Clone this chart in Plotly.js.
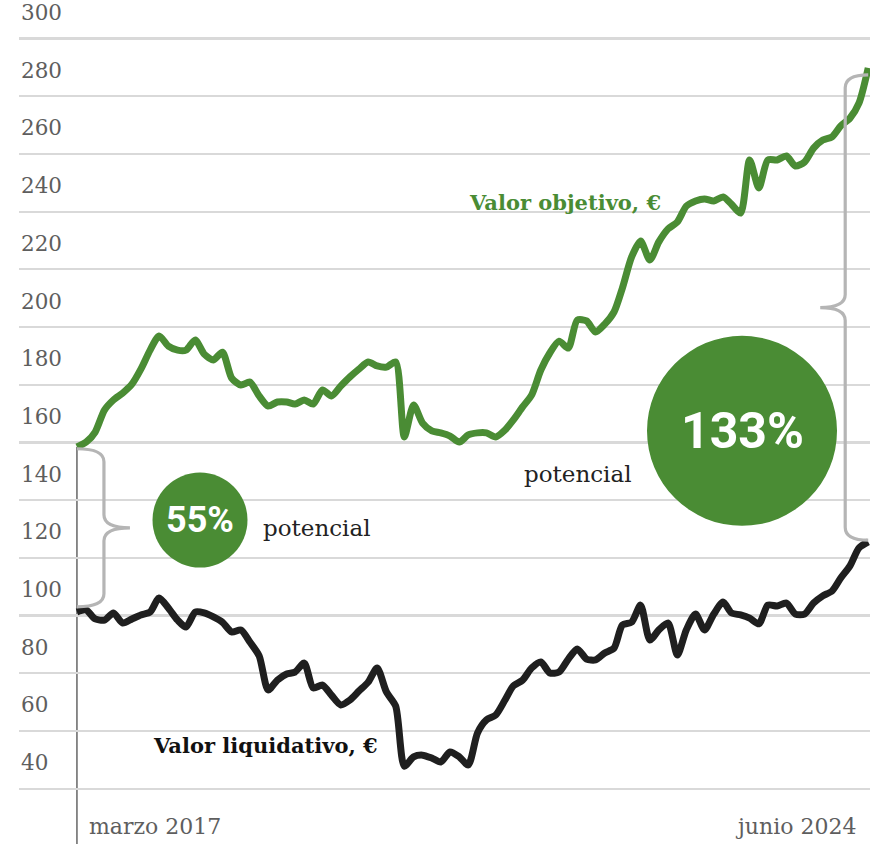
<!DOCTYPE html>
<html>
<head>
<meta charset="utf-8">
<script src="https://cdn.plot.ly/plotly-3.0.1.min.js"></script>
<style>html,body{margin:0;padding:0;background:#fff}#chart{width:870px;height:844px}</style>
</head>
<body>
<div id="chart"></div>
<script>
// Monthly observations, marzo 2017 – junio 2024
const months = [
"2017-03","2017-04","2017-05","2017-06","2017-07","2017-08","2017-09","2017-10","2017-11","2017-12",
"2018-01","2018-02","2018-03","2018-04","2018-05","2018-06","2018-07","2018-08","2018-09","2018-10","2018-11","2018-12",
"2019-01","2019-02","2019-03","2019-04","2019-05","2019-06","2019-07","2019-08","2019-09","2019-10","2019-11","2019-12",
"2020-01","2020-02","2020-03","2020-04","2020-05","2020-06","2020-07","2020-08","2020-09","2020-10","2020-11","2020-12",
"2021-01","2021-02","2021-03","2021-04","2021-05","2021-06","2021-07","2021-08","2021-09","2021-10","2021-11","2021-12",
"2022-01","2022-02","2022-03","2022-04","2022-05","2022-06","2022-07","2022-08","2022-09","2022-10","2022-11","2022-12",
"2023-01","2023-02","2023-03","2023-04","2023-05","2023-06","2023-07","2023-08","2023-09","2023-10","2023-11","2023-12",
"2024-01","2024-02","2024-03","2024-04","2024-05","2024-06"];

const valorObjetivo = [
158.4,160.1,163.6,171.2,174.7,177.1,180.2,185.4,192.0,196.9,
193.4,192.0,192.0,195.5,190.6,188.6,191.3,182.3,179.9,180.9,176.1,172.6,
174.0,174.0,173.3,174.7,173.3,178.2,176.1,179.5,182.7,185.4,187.9,186.5,
186.1,187.9,161.9,173.0,166.7,164.0,163.3,162.2,160.1,162.6,163.3,163.3,
161.9,164.3,167.8,172.3,176.4,185.1,191.0,195.1,192.7,202.4,202.1,198.3,
201.0,205.2,213.5,224.3,229.8,223.2,229.5,234.0,236.4,241.9,243.7,244.4,
243.7,245.1,242.6,239.5,257.9,248.2,257.9,257.9,259.3,255.8,257.2,262.0,
264.8,265.9,269.7,272.4,277.6,289.8];

const valorLiquidativo = [
101.2,101.9,98.8,98.4,100.9,97.4,98.8,100.2,101.2,106.1,
102.6,98.4,96.0,101.2,100.9,99.5,97.7,94.3,95.0,90.8,86.0,74.2,
77.6,79.7,80.4,83.5,74.9,75.9,72.4,69.0,70.7,73.8,76.9,81.8,
73.5,68.6,47.8,51.0,51.6,50.6,49.2,52.7,51.0,48.2,59.3,63.8,
65.5,70.7,75.6,77.6,81.8,83.9,80.1,80.4,84.9,88.4,84.9,84.6,
87.0,88.7,96.7,97.7,103.6,91.5,95.0,97.4,86.3,95.0,100.5,95.0,
100.5,104.7,100.9,100.2,99.1,97.1,103.6,103.3,104.3,100.5,100.5,104.3,
106.8,108.5,113.0,117.2,123.4,125.5];

const yTicks = [40,60,80,100,120,140,160,180,200,220,240,260,280,300];
const yTickText = ["40","60","80","100","120","140","160","180","200","220","240","260","280","300"];
const seriesNames = ["Valor objetivo, €","Valor liquidativo, €"];
const potencialLabels = ["55%","133%"];
const dateLabels = ["marzo 2017","junio 2024"];

const GREEN = "#4a8c34";
const BLACK = "#1f1f1f";
const GREY = "#b5b5b5";
const Y_MIN = 20.8, Y_MAX = 313.35;

const traces = [
  {x: months, y: valorObjetivo, type: "scatter", mode: "lines", name: seriesNames[0],
   line: {color: GREEN, width: 7, shape: "spline", smoothing: 0.7}, hoverinfo: "skip"},
  {x: months, y: valorLiquidativo, type: "scatter", mode: "lines", name: seriesNames[1],
   line: {color: BLACK, width: 7, shape: "spline", smoothing: 0.7}, hoverinfo: "skip"}
];

function brace(xAnchor, yTop, yBot, spine, tip) {
  const r = 4.5;
  const ym = (yTop + yBot) / 2;
  return "M0," + yTop +
    " Q" + spine + "," + yTop + " " + spine + "," + (yTop - r) +
    " L" + spine + "," + (ym + r) +
    " Q" + spine + "," + ym + " " + tip + "," + ym +
    " Q" + spine + "," + ym + " " + spine + "," + (ym - r) +
    " L" + spine + "," + (yBot + r) +
    " Q" + spine + "," + yBot + " 0," + yBot;
}

const last = months.length - 1;
const shapes = [
  {type: "line", xref: "x", yref: "y", x0: months[0], x1: months[0], y0: Y_MIN, y1: valorObjetivo[0],
   line: {color: "#4d4d4d", width: 1.3}, layer: "below"},
  {type: "path", xref: "x", yref: "y", xsizemode: "pixel", xanchor: months[0],
   path: brace(months[0], valorObjetivo[0] - 0.6, valorLiquidativo[0] + 1.8, 27, 53),
   line: {color: GREY, width: 3.2}},
  {type: "path", xref: "x", yref: "y", xsizemode: "pixel", xanchor: months[last],
   path: brace(months[last], valorObjetivo[last] - 2.4, valorLiquidativo[last] + 0.6, -23, -48),
   line: {color: GREY, width: 3.2}},
  {type: "circle", xref: "paper", yref: "y", xsizemode: "pixel", ysizemode: "pixel",
   xanchor: 0.2127, yanchor: 133.1, x0: -47.5, x1: 47.5, y0: -47.5, y1: 47.5,
   fillcolor: GREEN, line: {width: 0}},
  {type: "circle", xref: "paper", yref: "y", xsizemode: "pixel", ysizemode: "pixel",
   xanchor: 0.8496, yanchor: 164.0, x0: -95, x1: 95, y0: -95, y1: 95,
   fillcolor: GREEN, line: {width: 0}}
];

const annotations = [];
yTicks.forEach((v, i) => {
  annotations.push({xref: "paper", yref: "y", x: 0, y: v, yshift: 26, xanchor: "left", yanchor: "middle",
    text: yTickText[i], showarrow: false,
    font: {family: "DejaVu Serif", size: 21.5, color: "#5e5e5e"}});
});
annotations.push(
  {xref: "paper", yref: "y", x: 0.6416, y: 243.3, text: "<b>" + seriesNames[0] + "</b>", showarrow: false,
   xanchor: "center", yanchor: "middle", font: {family: "DejaVu Serif", size: 21, color: GREEN}},
  {xref: "paper", yref: "y", x: 0.2897, y: 55.1, text: "<b>" + seriesNames[1] + "</b>", showarrow: false,
   xanchor: "center", yanchor: "middle", font: {family: "DejaVu Serif", size: 21, color: "#111"}},
  {xref: "paper", yref: "y", x: 0.2127, y: 133.1, text: "<b>" + potencialLabels[0] + "</b>", showarrow: false,
   xanchor: "center", yanchor: "middle", font: {family: "Roboto", size: 36, color: "#fff"}},
  {xref: "paper", yref: "y", x: 0.8496, y: 164.0, text: "<b>" + potencialLabels[1] + "</b>", showarrow: false,
   xanchor: "center", yanchor: "middle", font: {family: "Roboto", size: 50, color: "#fff"}},
  {xref: "paper", yref: "y", x: 0.2844, y: 130.3, text: "potencial", showarrow: false,
   xanchor: "left", yanchor: "middle", font: {family: "DejaVu Serif", size: 23, color: "#222"}},
  {xref: "paper", yref: "y", x: 0.591, y: 149.0, text: "potencial", showarrow: false,
   xanchor: "left", yanchor: "middle", font: {family: "DejaVu Serif", size: 23, color: "#222"}},
  {xref: "paper", yref: "y", x: 0.0799, y: 27.0, text: dateLabels[0], showarrow: false,
   xanchor: "left", yanchor: "middle", font: {family: "DejaVu Serif", size: 22, color: "#5e5e5e"}},
  {xref: "paper", yref: "y", x: 0.9859, y: 27.0, text: dateLabels[1], showarrow: false,
   xanchor: "right", yanchor: "middle", font: {family: "DejaVu Serif", size: 22, color: "#5e5e5e"}}
);

const layout = {
  width: 870, height: 844,
  margin: {l: 19, r: 0, t: 0, b: 0, pad: 0},
  paper_bgcolor: "#fff", plot_bgcolor: "#fff",
  showlegend: false,
  hovermode: false,
  xaxis: {type: "date", range: ["2016-08-19", "2024-06-07"], showgrid: false, zeroline: false,
          showticklabels: false, ticks: "", showline: false, fixedrange: true},
  yaxis: {range: [Y_MIN, Y_MAX], tickvals: yTicks, showticklabels: false, ticks: "",
          gridcolor: "#d9d9d9", gridwidth: 2.2, zeroline: false, showline: false, fixedrange: true},
  shapes: shapes,
  annotations: annotations
};

Plotly.newPlot("chart", traces, layout, {staticPlot: true, displayModeBar: false});
</script>
</body>
</html>
